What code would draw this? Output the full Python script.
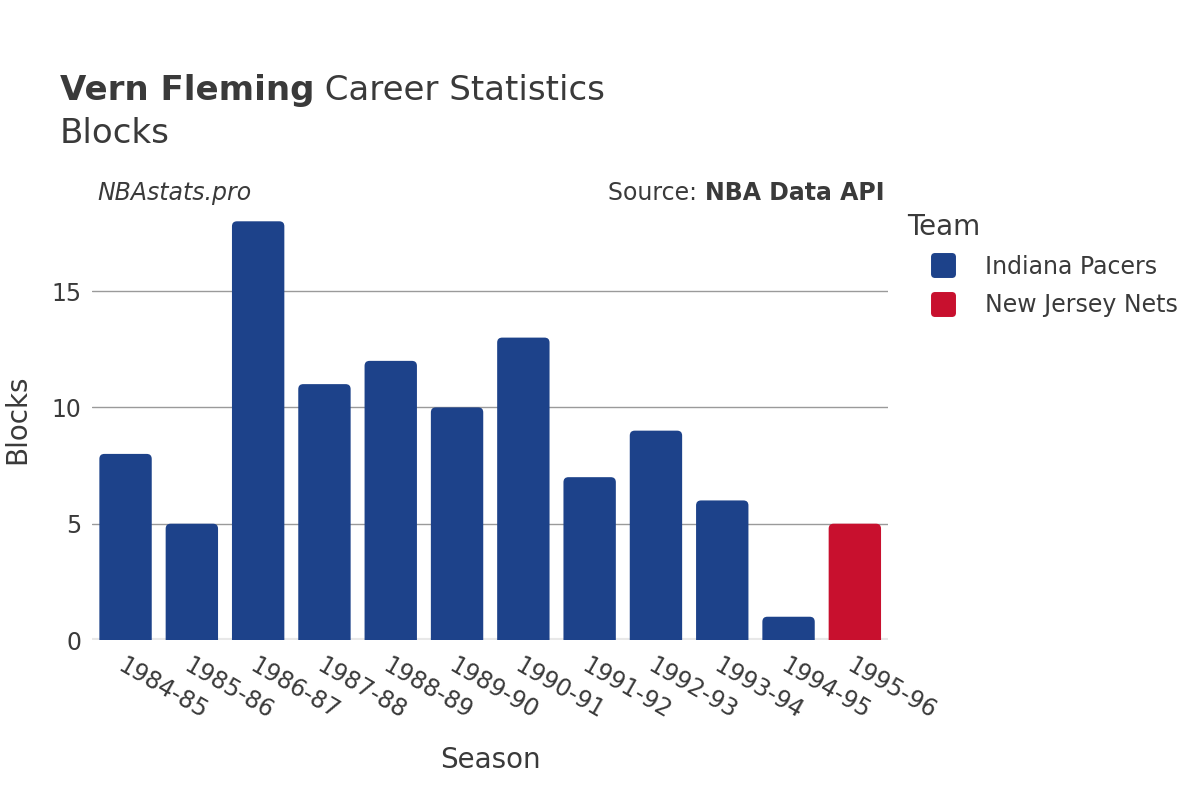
import pandas as pd, numpy as np, seaborn as sns
import matplotlib.pyplot as plt
from matplotlib.patches import FancyBboxPatch
from matplotlib.lines import Line2D
from matplotlib.markers import MarkerStyle

seasons = ['1984-85', '1985-86', '1986-87', '1987-88', '1988-89', '1989-90',
           '1990-91', '1991-92', '1992-93', '1993-94', '1994-95', '1995-96']
teams = ['Indiana Pacers'] * 11 + ['New Jersey Nets']
blocks = [8, 5, 18, 11, 12, 10, 13, 7, 9, 6, 1, 5]
team_colors = {'Indiana Pacers': '#1D428A', 'New Jersey Nets': '#C8102E'}

df = pd.DataFrame({'Season': seasons, 'Team': teams, 'Blocks': blocks})

sns.set_style('white')
plt.rcParams['font.family'] = ['DejaVu Sans']
txt = '#3a3a3a'

fig = plt.figure(figsize=(12, 8), dpi=100)
ax = fig.add_axes([0.077, 0.2, 0.663, 0.551])

sns.barplot(data=df, x='Season', y='Blocks', hue='Team', palette=team_colors,
            dodge=False, width=0.79, ax=ax, saturation=1, legend=False)

# swap the plain bars for ones with rounded tops
ylim_top = 18.95
ax.set_ylim(0, ylim_top)
ax.set_xlim(-0.5, len(seasons) - 0.5)
x_per_px = len(seasons) / 796
y_per_px = ylim_top / 441
for p in list(ax.patches):
    x, w, h = p.get_x(), p.get_width(), p.get_height()
    if w == 0 or np.isnan(h):
        continue
    fc = p.get_facecolor()
    p.remove()
    r = FancyBboxPatch((x, -6 * y_per_px), w, h + 6 * y_per_px,
                       boxstyle=f'round,pad=0,rounding_size={5 * x_per_px}',
                       mutation_aspect=y_per_px / x_per_px,
                       facecolor=fc, edgecolor='none', zorder=2)
    ax.add_patch(r)

ax.set_yticks([0, 5, 10, 15])
ax.yaxis.grid(True, color='#9a9a9a', linewidth=1)
ax.set_axisbelow(True)
ax.axhline(0, color='#e8e8e8', linewidth=3, zorder=1)
for s in ax.spines.values():
    s.set_visible(False)

ax.tick_params(axis='both', length=0, labelsize=17, labelcolor=txt, pad=8)
plt.setp(ax.get_xticklabels(), rotation=-30, ha='left', rotation_mode='anchor')
ax.tick_params(axis='x', pad=10)
ax.set_xlabel('Season', fontsize=20, color=txt, va='center')
ax.set_ylabel('Blocks', fontsize=20, color=txt, va='center')
ax.xaxis.set_label_coords(0.5, -0.272)
ax.yaxis.set_label_coords(-0.094, 0.5)

sq = MarkerStyle('s', joinstyle='round')
handles = [Line2D([], [], marker=sq, linestyle='none', markersize=13,
                  markerfacecolor=team_colors[t], markeredgecolor=team_colors[t],
                  markeredgewidth=5, label=t) for t in team_colors]
leg = ax.legend(handles=handles, loc='upper left', bbox_to_anchor=(0.997, 1.018),
                frameon=False, title='Team', fontsize=17, title_fontsize=20,
                handlelength=3.1, handletextpad=0.2, labelspacing=0.6, labelcolor=txt)
leg.get_title().set_color(txt)
leg._legend_box.align = 'left'

fig.canvas.draw()
r = fig.canvas.get_renderer()

def write_parts(x, y, parts, size, ha='left', **kw):
    # lay text pieces side by side
    pieces = []
    for s, weight, style in parts:
        t = fig.text(x, y, s, fontsize=size, color=txt, va='baseline',
                     fontweight=weight, style=style, **kw)
        pieces.append(t)
    widths = [t.get_window_extent(r).width / fig.bbox.width for t in pieces]
    start = x if ha == 'left' else x - sum(widths)
    for t, w in zip(pieces, widths):
        t.set_x(start)
        start += w

write_parts(0.05, 0.875, [('Vern Fleming', 'bold', 'normal'),
                          (' Career Statistics', 'normal', 'normal')], 24.5)
fig.text(0.05, 0.821, 'Blocks', fontsize=24.5, color=txt, va='baseline')
fig.text(0.081, 0.75, 'NBAstats.pro', fontsize=17, color=txt, style='italic', va='baseline')
write_parts(0.737, 0.75, [('Source: ', 'normal', 'normal'),
                          ('NBA Data API', 'bold', 'normal')], 17, ha='right')

fig.savefig('out.png', dpi=100)
